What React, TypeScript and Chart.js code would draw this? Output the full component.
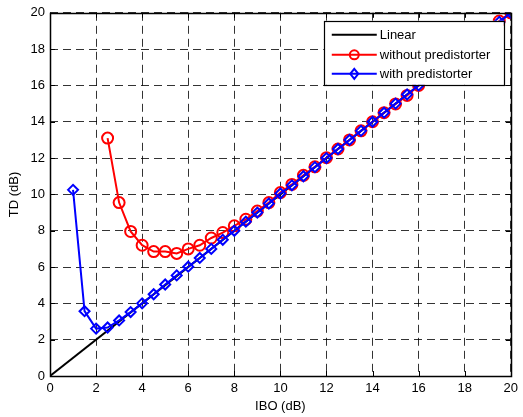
import React, { useEffect, useRef } from 'react';
import { Chart, registerables } from 'chart.js';

Chart.register(...registerables);

const linearX = [0, 20];
const linearY = [0, 20];

const redX = [2.5, 3, 3.5, 4, 4.5, 5, 5.5, 6, 6.5, 7, 7.5, 8, 8.5, 9, 9.5, 10, 10.5, 11, 11.5, 12, 12.5, 13, 13.5, 14, 14.5, 15, 15.5, 16, 16.5, 17, 17.5, 18, 18.5, 19, 19.5, 20];
const redY = [13.1, 9.55, 7.96, 7.2, 6.85, 6.85, 6.75, 7.0, 7.2, 7.6, 7.9, 8.27, 8.63, 9.08, 9.55, 10.1, 10.55, 11.05, 11.52, 12.02, 12.5, 13.0, 13.5, 14.0, 14.5, 14.98, 15.45, 16.0, 16.5, 17.0, 17.5, 18.0, 18.5, 19.0, 19.55, 20.0];

const blueX = [1, 1.5, 2, 2.5, 3, 3.5, 4, 4.5, 5, 5.5, 6, 6.5, 7, 7.5, 8, 8.5, 9, 9.5, 10, 10.5, 11, 11.5, 12, 12.5, 13, 13.5, 14, 14.5, 15, 15.5, 16, 16.5, 17, 17.5, 18, 18.5, 19, 19.5, 20];
const blueY = [10.25, 3.57, 2.61, 2.67, 3.06, 3.52, 4.0, 4.5, 5.04, 5.54, 6.02, 6.5, 7.0, 7.5, 8.0, 8.5, 9.0, 9.5, 10.05, 10.5, 11.0, 11.5, 12.0, 12.5, 13.0, 13.5, 14.0, 14.5, 15.0, 15.5, 16.0, 16.5, 17.0, 17.5, 18.0, 18.5, 19.0, 19.5, 20.0];

const xTicks = [0, 2, 4, 6, 8, 10, 12, 14, 16, 18, 20];
const yTicks = [0, 2, 4, 6, 8, 10, 12, 14, 16, 18, 20];

const labels = ['Linear', 'without predistorter', 'with predistorter'];
const xTitle = 'IBO (dB)';
const yTitle = 'TD (dB)';

const FONT = "'Liberation Sans', Arial, Helvetica, sans-serif";

const toPts = (xs: number[], ys: number[]) => xs.map((x, i) => ({ x, y: ys[i] }));

const framePlugin = {
  id: 'matlabFrame',
  afterDraw(chart: any) {
    const { ctx, chartArea } = chart;
    const { left, right, top, bottom } = chartArea;
    const xs = chart.scales.x;
    const ys = chart.scales.y;
    ctx.save();
    ctx.strokeStyle = '#000';
    ctx.lineWidth = 1;
    ctx.setLineDash([]);
    const tl = 5;
    ctx.beginPath();
    xTicks.forEach((v) => {
      const px = Math.round(xs.getPixelForValue(v)) + 0.5;
      ctx.moveTo(px, bottom);
      ctx.lineTo(px, bottom - tl);
      ctx.moveTo(px, top);
      ctx.lineTo(px, top + tl);
    });
    yTicks.forEach((v) => {
      const py = Math.round(ys.getPixelForValue(v)) + 0.5;
      ctx.moveTo(left, py);
      ctx.lineTo(left + tl, py);
      ctx.moveTo(right, py);
      ctx.lineTo(right - tl, py);
    });
    ctx.stroke();
    ctx.lineWidth = 1.5;
    ctx.strokeRect(Math.round(left) + 0.5, Math.round(top) + 0.5, Math.round(right - left), Math.round(bottom - top));

    // legend
    const bx = right - 187;
    const by = top + 8;
    const bw = 180;
    const bh = 64;
    ctx.fillStyle = '#fff';
    ctx.fillRect(bx, by, bw, bh);
    ctx.lineWidth = 1.2;
    ctx.strokeStyle = '#000';
    ctx.strokeRect(Math.round(bx) + 0.5, Math.round(by) + 0.5, bw, bh);
    const ds = chart.data.datasets;
    const rowsY = [by + 14, by + 34, by + 53];
    const order = [0, 1, 2];
    ctx.font = `13px ${FONT}`;
    ctx.textBaseline = 'middle';
    ctx.textAlign = 'left';
    order.forEach((di, r) => {
      const d = ds[di];
      const y = rowsY[r];
      const x0 = bx + 8;
      const x1 = bx + 53;
      ctx.strokeStyle = d.borderColor;
      ctx.lineWidth = 2;
      ctx.beginPath();
      ctx.moveTo(x0, y);
      ctx.lineTo(x1, y);
      ctx.stroke();
      const cx = (x0 + x1) / 2;
      if (d.pointStyle === 'circle' && d.pointRadius > 0) {
        ctx.beginPath();
        ctx.arc(cx, y, 4.5, 0, Math.PI * 2);
        ctx.stroke();
      } else if (d.pointStyle === 'rectRot') {
        ctx.beginPath();
        ctx.moveTo(cx, y - 5);
        ctx.lineTo(cx + 4, y);
        ctx.lineTo(cx, y + 5);
        ctx.lineTo(cx - 4, y);
        ctx.closePath();
        ctx.stroke();
      }
      ctx.fillStyle = '#000';
      ctx.fillText(d.label, x1 + 3, y + 1);
    });
    ctx.restore();
  },
};

export default function App() {
  const ref = useRef<HTMLCanvasElement>(null);
  useEffect(() => {
    document.body.style.margin = '0';
    const canvas = ref.current;
    if (!canvas) return;
    const chart = new Chart(canvas, {
      type: 'scatter',
      data: {
        datasets: [
          {
            label: labels[0],
            data: toPts(linearX, linearY),
            showLine: true,
            borderColor: '#000000',
            backgroundColor: '#000000',
            borderWidth: 2,
            pointRadius: 0,
            pointStyle: 'line',
            order: 3,
          },
          {
            label: labels[1],
            data: toPts(redX, redY),
            showLine: true,
            borderColor: '#ff0000',
            backgroundColor: 'transparent',
            borderWidth: 2,
            pointRadius: 5.5,
            pointBorderWidth: 2,
            pointStyle: 'circle',
            pointBackgroundColor: 'transparent',
            pointBorderColor: '#ff0000',
            order: 2,
          },
          {
            label: labels[2],
            data: toPts(blueX, blueY),
            showLine: true,
            borderColor: '#0000ff',
            backgroundColor: 'transparent',
            borderWidth: 2,
            pointRadius: 5,
            pointBorderWidth: 2,
            pointStyle: 'rectRot',
            pointBackgroundColor: 'transparent',
            pointBorderColor: '#0000ff',
            order: 1,
          },
        ] as any,
      },
      options: {
        responsive: false,
        animation: false,
        devicePixelRatio: 1,
        layout: { padding: { left: 3, top: 10, right: 9, bottom: 0 } },
        plugins: { legend: { display: false }, tooltip: { enabled: false } },
        elements: { line: { tension: 0 } },
        scales: {
          x: {
            type: 'linear',
            min: 0,
            max: 20,
            afterBuildTicks: (s: any) => { s.ticks = xTicks.map((v) => ({ value: v })); },
            afterFit: (s: any) => { s.height = 41; },
            ticks: { font: { family: FONT, size: 13 }, color: '#000', padding: 5, maxRotation: 0 },
            grid: { color: 'rgba(0,0,0,0.8)', lineWidth: 1, drawTicks: false },
            border: { display: false, dash: [8, 5] },
            title: { display: true, text: xTitle, color: '#000', font: { family: FONT, size: 13 }, padding: { top: 0, bottom: 3 } },
          },
          y: {
            type: 'linear',
            min: 0,
            max: 20,
            afterBuildTicks: (s: any) => { s.ticks = yTicks.map((v) => ({ value: v })); },
            afterFit: (s: any) => { s.width = 47; },
            ticks: { font: { family: FONT, size: 13 }, color: '#000', padding: 5 },
            grid: { color: 'rgba(0,0,0,0.8)', lineWidth: 1, drawTicks: false },
            border: { display: false, dash: [8, 5] },
            title: { display: true, text: yTitle, color: '#000', font: { family: FONT, size: 13 }, padding: { top: 4, bottom: 4 } },
          },
        },
      },
      plugins: [framePlugin],
    });
    return () => chart.destroy();
  }, []);
  return (
    <div style={{ width: 523, height: 417 }}>
      <canvas ref={ref} width={523} height={417} style={{ display: 'block' }} />
    </div>
  );
}
